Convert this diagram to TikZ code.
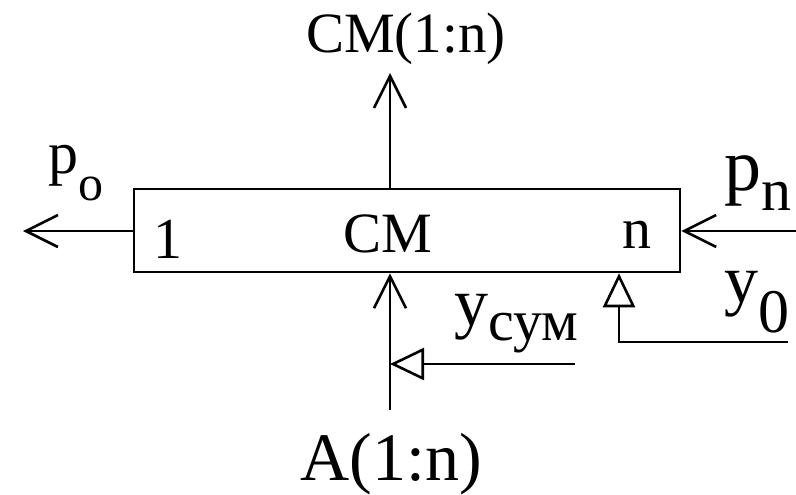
\documentclass[tikz,border=0pt]{standalone}
\usepackage{fontspec}
\setmainfont{Liberation Serif}
\usetikzlibrary{arrows.meta}
\newcommand{\fs}[1]{\fontsize{#1}{#1}\selectfont}
\newcommand{\lowsub}[3]{\raisebox{-#1}{\fs{#2}#3}}

\begin{document}
\begin{tikzpicture}[x=0.5pt,y=-0.5pt,line width=1.3pt,
    barb/.style={-{Straight Barb[length=16pt,width=16pt]}},
    tri/.style={-{Triangle[open,length=17pt,width=16pt]}},
    lbl/.style={inner sep=0pt,anchor=base}]
    \useasboundingbox (0,0) rectangle (796,494);

    % Adder block
    \node[draw,minimum width=273pt,minimum height=41.5pt,inner sep=0pt] (sm) at (407,230.5) {};
    \node[lbl,font=\fs{29pt}] (one) at (168,258) {1};
    \node[lbl,font=\fs{28.5pt}] (cm) at (388,252) {CM};
    \node[lbl,font=\fs{29pt}] (en) at (637,248) {n};

    % Ends of the lines
    \coordinate (topEnd) at (390,73);
    \coordinate (leftEnd) at (23,231);
    \coordinate (rightStart) at (796,231);
    \coordinate (botStart) at (390,410);
    \coordinate (yoStart) at (788,342);
    \coordinate (yoBend) at (619,342);
    \coordinate (ysStart) at (575,364);

    % Data and carry lines
    \draw[barb] (sm.north -| topEnd) -- (topEnd);
    \draw[barb] (sm.west |- leftEnd) -- (leftEnd);
    \draw[barb] (rightStart) -- (sm.east |- rightStart);
    \draw[barb] (botStart) -- (sm.south -| botStart);

    % Control lines
    \draw[tri] (yoStart) -- (yoBend) -- (sm.south -| yoBend);
    \draw[tri] (ysStart) -- (ysStart -| botStart);

    % Labels
    \node[lbl,font=\fs{28.5pt}] (out) at (406,52) {CM(1:n)};
    \node[lbl,font=\fs{34pt}] (in) at (391,480) {A(1:n)};
    \node[lbl,anchor=base west,font=\fs{30pt}] (po) at (47,173) {p\lowsub{13.5pt}{25pt}{o}};
    \node[lbl,anchor=base west,font=\fs{37pt}] (pn) at (723,190) {p\lowsub{10pt}{30pt}{n}};
    \node[lbl,anchor=base west,font=\fs{34pt}] (yo) at (723,302) {y\lowsub{15pt}{31pt}{0}};
    \node[lbl,anchor=base west,font=\fs{34pt}] (ysum) at (453,325) {y\lowsub{7.5pt}{29pt}{сум}};
\end{tikzpicture}
\end{document}
